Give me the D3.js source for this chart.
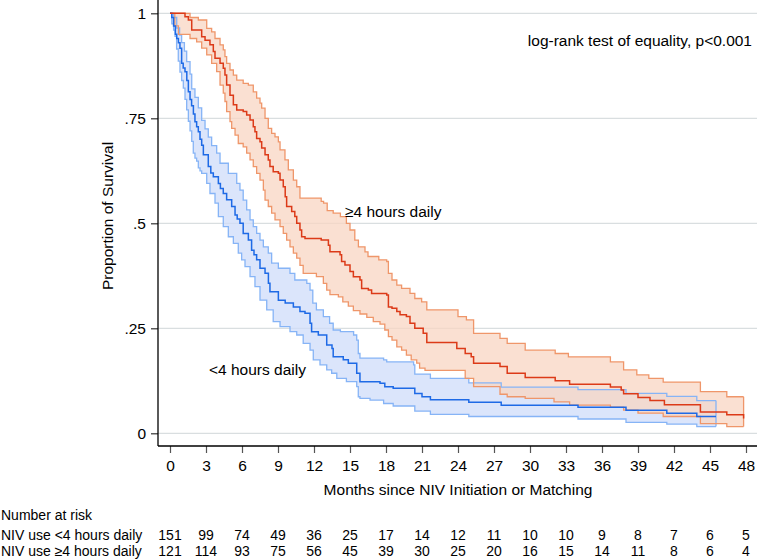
<!DOCTYPE html>
<html>
<head>
<meta charset="utf-8">
<script src="https://cdn.jsdelivr.net/npm/d3@7"></script>
<style>
  html, body { margin: 0; padding: 0; background: #fff; }
  svg { display: block; font-family: "Liberation Sans", Arial, Helvetica, sans-serif; }
</style>
</head>
<body>
<svg id="chart" width="760" height="559"></svg>
<script>
// ---------- data ----------
const xTicks = [0,3,6,9,12,15,18,21,24,27,30,33,36,39,42,45,48];
const yTicks = [0, 0.25, 0.5, 0.75, 1];
const yTickLabels = ["0", ".25", ".5", ".75", "1"];

const riskRowLabels = ["NIV use <4 hours daily", "NIV use \u22654 hours daily"];
const riskLow  = [151,99,74,49,36,25,17,14,12,11,10,10,9,8,7,6,5];
const riskHigh = [121,114,93,75,56,45,39,30,25,20,16,15,14,11,8,6,4];

// Kaplan-Meier step points [month, survival] : <4 hours daily
const lowEst = [[0,1],[0.15,0.99],[0.3,0.97],[0.45,0.95],[0.56,0.94],[0.7,0.93],[0.83,0.917],[0.97,0.881],[1.1,0.87],[1.25,0.861],[1.4,0.84],[1.53,0.813],[1.67,0.795],[1.8,0.78],[1.95,0.76],[2.08,0.742],[2.22,0.73],[2.36,0.718],[2.5,0.70],[2.64,0.686],[2.78,0.663],[3.19,0.635],[3.4,0.62],[3.61,0.611],[4.03,0.595],[4.2,0.583],[4.44,0.571],[4.72,0.556],[5.14,0.54],[5.42,0.52],[5.6,0.51],[5.83,0.5],[6.1,0.476],[6.53,0.46],[6.8,0.436],[7.0,0.425],[7.22,0.413],[7.5,0.393],[7.92,0.381],[8.2,0.357],[8.33,0.337],[9.03,0.317],[9.6,0.31],[10.28,0.301],[10.83,0.29],[11.25,0.286],[11.67,0.262],[11.8,0.242],[12.36,0.234],[13.06,0.21],[13.5,0.202],[13.6,0.182],[14.44,0.175],[14.86,0.167],[15.56,0.143],[15.83,0.123],[17.5,0.119],[17.9,0.111],[18.6,0.107],[20.4,0.095],[21.0,0.087],[21.7,0.08],[24.9,0.074],[27.6,0.067],[34,0.062],[38,0.055],[41.4,0.048],[43.9,0.04],[45.5,0.04]];
const lowLo = [[0,1],[0.15,0.975],[0.3,0.96],[0.42,0.945],[0.55,0.915],[0.69,0.886],[0.83,0.86],[0.97,0.84],[1.11,0.822],[1.25,0.795],[1.39,0.77],[1.53,0.743],[1.67,0.72],[1.81,0.695],[1.94,0.667],[2.08,0.655],[2.22,0.648],[2.36,0.632],[2.5,0.625],[2.64,0.619],[3.06,0.595],[3.33,0.571],[3.75,0.548],[4.03,0.516],[4.44,0.492],[4.86,0.468],[5.28,0.452],[5.69,0.429],[5.97,0.413],[6.25,0.397],[6.67,0.373],[7.08,0.349],[7.5,0.317],[8.06,0.294],[8.6,0.266],[9.17,0.254],[10,0.242],[10.56,0.234],[11.1,0.214],[11.67,0.198],[11.94,0.175],[12.5,0.163],[13.06,0.151],[13.47,0.143],[13.9,0.131],[14.7,0.123],[15.56,0.111],[15.69,0.087],[15.83,0.083],[16.67,0.079],[17.8,0.071],[18.6,0.065],[20.4,0.053],[21.7,0.045],[24.9,0.04],[34,0.034],[38,0.026],[41.4,0.022],[43.9,0.016],[45.5,0.016]];
const lowUp = [[0,1],[0.3,0.99],[0.56,0.965],[0.8,0.948],[0.97,0.93],[1.2,0.91],[1.39,0.885],[1.67,0.855],[1.81,0.82],[2.08,0.8],[2.36,0.775],[2.64,0.745],[2.92,0.725],[3.19,0.705],[3.47,0.685],[3.89,0.667],[4.17,0.643],[4.86,0.619],[5.56,0.595],[5.83,0.579],[6.1,0.555],[6.39,0.532],[6.67,0.508],[6.94,0.492],[7.22,0.476],[7.5,0.46],[7.78,0.444],[8.19,0.429],[8.47,0.405],[9.03,0.393],[10,0.381],[10.4,0.365],[11.4,0.357],[11.67,0.341],[11.9,0.31],[12.2,0.294],[12.78,0.278],[13.3,0.262],[13.6,0.246],[14.2,0.242],[15.3,0.234],[15.56,0.222],[15.69,0.19],[15.83,0.179],[17.8,0.175],[18.06,0.17],[20.3,0.163],[20.4,0.141],[21.7,0.131],[24.9,0.12],[27.6,0.11],[34,0.104],[38,0.095],[41.4,0.088],[43.9,0.078],[45.5,0.078]];

// Kaplan-Meier step points [month, survival] : >=4 hours daily
const highEst = [[0,1],[1.25,0.992],[1.53,0.984],[1.81,0.96],[2.64,0.944],[2.92,0.936],[3.33,0.925],[3.61,0.909],[3.75,0.893],[4.17,0.881],[4.44,0.869],[4.58,0.853],[4.72,0.829],[5.0,0.805],[5.28,0.782],[5.56,0.77],[6.1,0.766],[6.39,0.758],[6.67,0.746],[6.94,0.73],[7.08,0.718],[7.22,0.702],[7.5,0.694],[7.64,0.679],[7.92,0.663],[8.19,0.651],[8.33,0.635],[8.6,0.623],[9.03,0.619],[9.17,0.603],[9.44,0.587],[9.6,0.563],[9.72,0.54],[10.14,0.528],[10.4,0.516],[10.56,0.5],[10.83,0.484],[10.97,0.468],[11.25,0.464],[12.6,0.46],[13.2,0.448],[13.33,0.432],[14.17,0.425],[14.3,0.409],[14.58,0.401],[15.0,0.385],[15.28,0.373],[15.83,0.365],[15.97,0.345],[16.53,0.341],[16.8,0.333],[18.06,0.329],[18.2,0.301],[18.5,0.298],[18.9,0.29],[19.17,0.282],[19.7,0.278],[20.0,0.262],[20.4,0.25],[21.1,0.238],[21.4,0.216],[23.9,0.202],[24.6,0.19],[25.1,0.182],[25.3,0.167],[27.5,0.159],[28.1,0.143],[29.6,0.133],[32.1,0.125],[33.3,0.117],[36.7,0.11],[37.6,0.103],[37.8,0.094],[39,0.085],[40,0.078],[41.2,0.068],[44.2,0.051],[46.4,0.044],[47.8,0.035]];
const highLo = [[0,1],[0.4,0.97],[0.7,0.95],[1.67,0.94],[2.22,0.932],[2.64,0.917],[3.06,0.901],[3.47,0.881],[3.89,0.861],[4.17,0.829],[4.44,0.81],[4.58,0.79],[4.72,0.766],[5.0,0.742],[5.14,0.726],[5.42,0.71],[5.69,0.69],[6.1,0.682],[6.39,0.667],[6.67,0.651],[6.94,0.635],[7.22,0.619],[7.5,0.603],[7.78,0.579],[7.92,0.555],[8.19,0.54],[8.47,0.524],[8.75,0.508],[9.17,0.492],[9.44,0.476],[9.72,0.46],[10.0,0.444],[10.28,0.429],[10.56,0.417],[10.83,0.4],[11.1,0.381],[12.2,0.373],[12.78,0.357],[13.06,0.341],[13.33,0.33],[14.03,0.325],[14.4,0.313],[14.86,0.303],[15.28,0.292],[15.83,0.284],[16.4,0.276],[16.94,0.266],[17.5,0.26],[17.9,0.246],[18.2,0.23],[18.5,0.222],[18.9,0.206],[19.3,0.198],[19.7,0.186],[20.1,0.175],[20.56,0.167],[20.8,0.155],[21.25,0.15],[24.6,0.131],[25.3,0.111],[27.5,0.093],[28.1,0.087],[29.6,0.083],[32.0,0.075],[33.3,0.067],[36.7,0.062],[37.8,0.055],[39,0.048],[41.1,0.04],[44.2,0.023],[46.4,0.016],[47.8,0.016]];
const highUp = [[0,1],[1.67,0.99],[2.36,0.984],[3.06,0.964],[3.47,0.956],[3.75,0.94],[4.17,0.925],[4.44,0.913],[4.58,0.897],[4.72,0.881],[5.0,0.865],[5.28,0.853],[5.56,0.841],[6.1,0.833],[6.53,0.829],[6.94,0.813],[7.22,0.798],[7.5,0.786],[7.64,0.774],[7.92,0.75],[8.19,0.726],[8.47,0.714],[8.75,0.706],[9.03,0.694],[9.17,0.675],[9.58,0.651],[9.86,0.627],[10.28,0.603],[10.56,0.587],[10.83,0.56],[12.6,0.552],[12.8,0.548],[13.1,0.53],[13.6,0.524],[14.2,0.516],[14.7,0.5],[15.0,0.484],[15.4,0.46],[15.7,0.444],[16.25,0.432],[16.5,0.421],[17.4,0.413],[18.06,0.409],[18.2,0.381],[18.5,0.365],[18.9,0.353],[19.3,0.345],[20.0,0.333],[20.4,0.321],[20.97,0.313],[21.4,0.294],[24.0,0.278],[24.7,0.27],[25.3,0.238],[27.5,0.226],[28.1,0.214],[29.6,0.198],[32.1,0.19],[33.2,0.182],[36.7,0.17],[37.8,0.151],[38.9,0.139],[39.9,0.131],[41.1,0.122],[44.2,0.099],[46.4,0.087],[47.8,0.087]];

const annotation = "log-rank test of equality, p<0.001";
const labelHigh = "\u22654 hours daily";
const labelLow = "<4 hours daily";
const xTitle = "Months since NIV Initiation or Matching";
const yTitle = "Proportion of Survival";

// ---------- drawing ----------
const svg = d3.select("#chart");
const x = d3.scaleLinear().domain([0, 48]).range([170, 746]);
const y = d3.scaleLinear().domain([0, 1]).range([433.3, 13.3]);
const axisLeftX = 158, axisBottomY = 446;
const font = 15.5;
const tableFont = 14;

// gridlines
svg.append("g").selectAll("line").data(yTicks).join("line")
  .attr("x1", axisLeftX).attr("x2", 757)
  .attr("y1", d => y(d)).attr("y2", d => y(d))
  .attr("stroke", "#d9dee0").attr("stroke-width", 1.3);

function stepAt(arr, t) {
  let v = arr[0][1];
  for (const [tt, vv] of arr) { if (tt <= t) v = vv; else break; }
  return v;
}
function bandData(lo, up) {
  const times = Array.from(new Set([...lo.map(d => d[0]), ...up.map(d => d[0])])).sort((a, b) => a - b);
  return times.map(t => ({ t, lo: stepAt(lo, t), up: stepAt(up, t) }));
}
const area = d3.area().curve(d3.curveStepAfter)
  .x(d => x(d.t)).y0(d => y(d.lo)).y1(d => y(d.up));
const line = d3.line().curve(d3.curveStepAfter).x(d => x(d[0])).y(d => y(d[1]));

const groups = [
  { lo: lowLo, up: lowUp, est: lowEst, fill: "#cfdcfa", edge: "#86b4f6", main: "#1e6ae6" },
  { lo: highLo, up: highUp, est: highEst, fill: "#f8d5c3", edge: "#ef966a", main: "#dc3a18" }
];
groups.forEach(g => {
  svg.append("path").datum(bandData(g.lo, g.up))
    .attr("d", area).attr("fill", g.fill).attr("fill-opacity", 0.75).attr("stroke", "none");
});
groups.forEach(g => {
  svg.append("path").datum(g.lo).attr("d", line).attr("fill", "none")
    .attr("stroke", g.edge).attr("stroke-width", 1.3);
  svg.append("path").datum(g.up).attr("d", line).attr("fill", "none")
    .attr("stroke", g.edge).attr("stroke-width", 1.3);
  const last = g.lo.length - 1;
  svg.append("line").attr("x1", x(g.lo[last][0])).attr("x2", x(g.lo[last][0]))
    .attr("y1", y(g.lo[last][1])).attr("y2", y(g.up[g.up.length - 1][1]))
    .attr("stroke", g.edge).attr("stroke-width", 1.3);
});
groups.forEach(g => {
  svg.append("path").datum(g.est).attr("d", line).attr("fill", "none")
    .attr("stroke", g.main).attr("stroke-width", 1.5);
});

// axes
const yAxis = d3.axisLeft(y).tickValues(yTicks).tickFormat((d, i) => yTickLabels[i])
  .tickSize(7).tickPadding(5);
const gy = svg.append("g").attr("transform", `translate(${axisLeftX},0)`).call(yAxis);
gy.select(".domain").remove();
gy.selectAll(".tick line").attr("stroke", "#333").attr("stroke-width", 1.2);
gy.selectAll(".tick text").attr("font-size", font).attr("fill", "#000")
  .attr("font-family", "Liberation Sans, Arial, sans-serif");
svg.append("line").attr("x1", axisLeftX).attr("x2", axisLeftX).attr("y1", 0).attr("y2", axisBottomY)
  .attr("stroke", "#000").attr("stroke-width", 1.3);

const xAxis = d3.axisBottom(x).tickValues(xTicks).tickFormat(d3.format("d"))
  .tickSize(7).tickPadding(7);
const gx = svg.append("g").attr("transform", `translate(0,${axisBottomY})`).call(xAxis);
gx.select(".domain").remove();
gx.selectAll(".tick line").attr("stroke", "#555").attr("stroke-width", 1.2);
gx.selectAll(".tick text").attr("font-size", font).attr("fill", "#000")
  .attr("font-family", "Liberation Sans, Arial, sans-serif");
svg.append("line").attr("x1", axisLeftX).attr("x2", 757).attr("y1", axisBottomY).attr("y2", axisBottomY)
  .attr("stroke", "#000").attr("stroke-width", 1.3);

// titles
svg.append("text").attr("x", 458).attr("y", 495).attr("text-anchor", "middle")
  .attr("font-size", font).text(xTitle);
svg.append("text").attr("transform", "translate(113,216) rotate(-90)").attr("text-anchor", "middle")
  .attr("font-size", font).text(yTitle);

// annotations
svg.append("text").attr("x", 752).attr("y", 46).attr("text-anchor", "end")
  .attr("font-size", font).text(annotation);
svg.append("text").attr("x", 345).attr("y", 217).attr("font-size", font).text(labelHigh);
svg.append("text").attr("x", 209).attr("y", 375).attr("font-size", font).text(labelLow);

// number at risk table
svg.append("text").attr("x", 1).attr("y", 520).attr("font-size", tableFont).text("Number at risk");
const rows = [riskLow, riskHigh];
const rowY = [540, 556];
rows.forEach((r, i) => {
  svg.append("text").attr("x", 1).attr("y", rowY[i]).attr("font-size", tableFont).text(riskRowLabels[i]);
  svg.append("g").selectAll("text").data(r).join("text")
    .attr("x", (d, j) => x(xTicks[j])).attr("y", rowY[i])
    .attr("text-anchor", "middle").attr("font-size", tableFont).text(d => d);
});
</script>
</body>
</html>
